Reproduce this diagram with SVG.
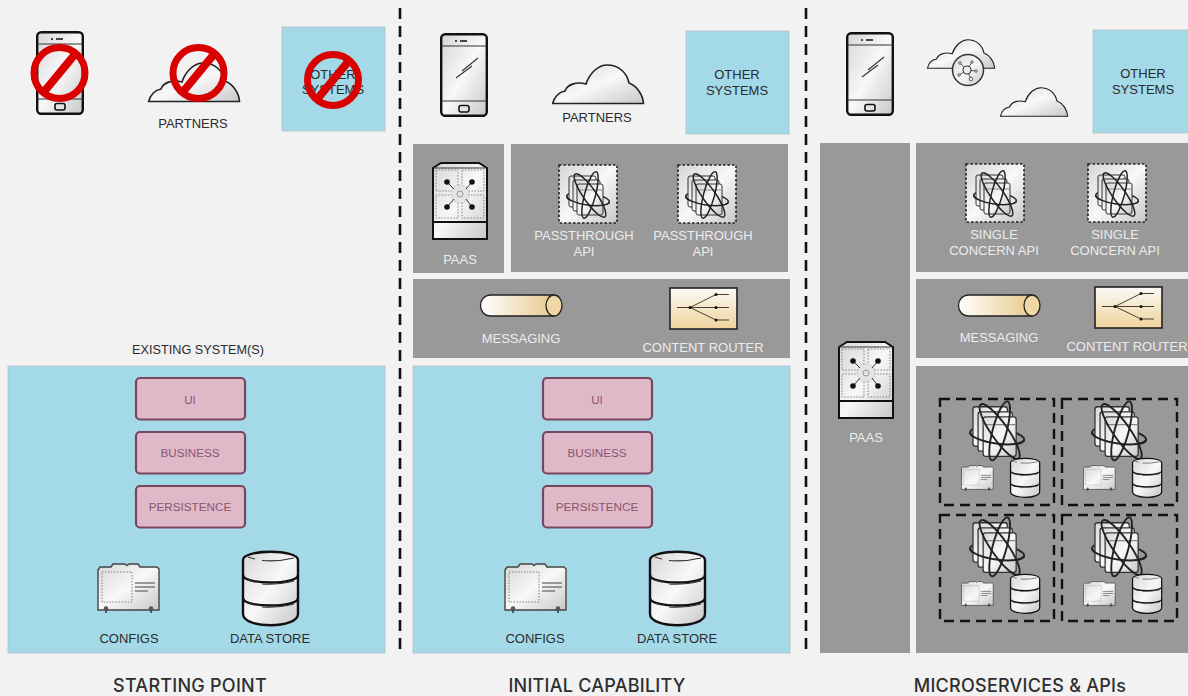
<svg xmlns="http://www.w3.org/2000/svg" width="1188" height="696" viewBox="0 0 1188 696">
<style>
text{font-family:"Liberation Sans",Arial,sans-serif;font-size:13px;text-anchor:middle;fill:#2b2b2b}
.w{fill:#ececec}
.t{font-family:Inter,"Liberation Sans",sans-serif;font-size:18px;font-weight:500;fill:#2e2e2e;letter-spacing:.25px}
.p{fill:#8a5570;font-size:11.700px}
.blue{fill:#a4d9e8;stroke:#b5c4c9;stroke-width:.8}
.gray{fill:#999}
.pink{fill:#e0b9c8;stroke:#7a4560;stroke-width:2.2}
.o{fill:none;stroke:#222;stroke-width:1.5}
.div{stroke:#111;stroke-width:2.6;stroke-dasharray:11 7;fill:none}
.dash{fill:none;stroke:#111;stroke-width:2.4;stroke-dasharray:10 6}
.no{fill:none;stroke:#d90000;stroke-width:7}
.thin{fill:none;stroke:#333;stroke-width:1.2}
.dot{fill:none;stroke:#777;stroke-width:.9;stroke-dasharray:1.5 1.5}
</style>
<defs>
<linearGradient id="g" x1="0" y1="0" x2="1" y2="1"><stop offset="0" stop-color="#d6d6d6"/><stop offset=".5" stop-color="#f8f8f8"/><stop offset="1" stop-color="#c8c8c8"/></linearGradient>
<linearGradient id="tan" x1="0" y1="0" x2="1" y2="0"><stop offset="0" stop-color="#fff"/><stop offset="1" stop-color="#e8c98c"/></linearGradient>
<linearGradient id="tanv" x1="0" y1="0" x2="0" y2="1"><stop offset="0" stop-color="#fbfaf6"/><stop offset="1" stop-color="#efd39c"/></linearGradient>
<g id="phone"><rect x="1.200" y="1.200" width="45.600" height="81.600" rx="4" fill="url(#g)" stroke="#111" stroke-width="2.400"/><path d="M1,13H47M1,68H47" stroke="#333" stroke-width="1.200"/><path d="M15,8h2M20,8h7" stroke="#111" stroke-width="1.500"/><rect x="19" y="72.500" width="10" height="6.500" rx="2" fill="none" stroke="#111" stroke-width="1.600"/></g>
<path id="glare" d="M22,38L38,25M16,45L32,33" stroke="#333" stroke-width="1.100"/>
<path id="cloud" d="M.7,39.500C2,33 7,28 13,27C15,21 24,17 34,20C38,8 47,1 55,1C67,1 75,9 77,19C85,22 91,31 91.500,39.500Z" fill="url(#g)" stroke="#222" stroke-width="1.600"/>
<g id="config"><path d="M1,47V7L3,4H14L16,1H28L30,2.500L32,1H41L43,4H60L62,6V47Z" fill="url(#g)" stroke="#444" stroke-width="1.400"/><rect x="5" y="9" width="30" height="30" class="dot"/><path d="M38,20H58M38,24H58M38,28H51" stroke="#444" stroke-width="1.100"/><path d="M9,46v4M54,46v4" stroke="#333" stroke-width="1.500"/><circle cx="9" cy="45.500" r="2.300" fill="#555"/><circle cx="54" cy="45.500" r="2.300" fill="#555"/></g>
<g id="db"><path d="M1,9C1,-2 56,-2 56,9V63C56,78 1,78 1,63Z" fill="url(#g)" stroke="#111" stroke-width="2.400"/><path d="M1,24C1,34 56,34 56,24M1,47C1,57 56,57 56,47" fill="none" stroke="#111" stroke-width="2.400"/><path d="M6,6Q9,7 13,8M20,9.500Q35,11 52,7M6,29Q9,30 13,31M20,33Q35,34 52,30M6,52Q9,53 13,54M20,56Q35,57 52,53" fill="none" stroke="#333" stroke-width="1.100"/></g>
<g id="stack"><ellipse cx="30" cy="35" rx="21.500" ry="6" class="o" transform="rotate(8 30 35)"/><rect x="11" y="12" width="27" height="31" rx="2" fill="url(#g)" stroke="#333"/><rect x="15" y="16" width="27" height="31" rx="2" fill="url(#g)" stroke="#333"/><rect x="19" y="20" width="26" height="31" rx="2" fill="url(#g)" stroke="#333"/><path d="M19,26H45" stroke="#888"/><path d="M8.500,35A21.500,6 0 0 0 51.500,35" class="o" transform="rotate(8 30 35)"/><ellipse cx="32" cy="31.500" rx="26" ry="6.500" class="o" transform="rotate(55 32 31.500)"/><ellipse cx="32" cy="31" rx="24" ry="5.500" class="o" transform="rotate(105 32 31)"/></g>
<g id="api"><rect x="1" y="1" width="58" height="58" fill="url(#g)" stroke="#222" stroke-width="1.600" stroke-dasharray="2.500 2"/><use href="#stack"/></g>
<g id="paas"><path d="M1,6L9,1H47L55,6V77H1Z" fill="url(#g)" stroke="#111" stroke-width="2"/><path d="M1,6H55" stroke="#333" stroke-width="1.200"/><path d="M1,60H55" stroke="#111" stroke-width="2.200"/><path d="M4,8H26V24L20,29H4ZM30,8H52V29H36L30,24ZM4,33H20L26,38V56H4ZM36,33H52V56H30V38Z" class="dot"/><circle cx="28" cy="32" r="9" fill="#e4e4e4" stroke="#aaa" stroke-dasharray="1.500 1.500" stroke-width=".9"/><circle cx="28" cy="32" r="3" fill="none" stroke="#999"/><path d="M15,20L22,27M40,20L34,27M15,45L22,37M40,45L34,37" stroke="#333" stroke-width="1"/><circle cx="15" cy="20" r="2.800" fill="#111"/><circle cx="40" cy="20" r="2.800" fill="#111"/><circle cx="15" cy="45" r="2.800" fill="#111"/><circle cx="40" cy="45" r="2.800" fill="#111"/></g>
<g id="msg"><path d="M11,1H74V22H11C-3,22 -3,1 11,1Z" fill="url(#tan)" stroke="#222" stroke-width="1.300"/><ellipse cx="74" cy="11.500" rx="8" ry="10.500" fill="#efd7a6" stroke="#222" stroke-width="1.300"/></g>
<g id="router"><rect x="1" y="1" width="67" height="41" fill="url(#tanv)" stroke="#222" stroke-width="1.600"/><path d="M8,20.500H60M21,20.500L47,7.500H60M21,20.500L47,33H60" fill="none" stroke="#4a4030" stroke-width="1"/><circle cx="21" cy="20.500" r="1.500" fill="#111"/><circle cx="47" cy="7.500" r="1.500" fill="#111"/><circle cx="47" cy="20.500" r="1.500" fill="#111"/><circle cx="47" cy="33" r="1.500" fill="#111"/></g>
<g id="ban"><circle r="25.500" class="no"/><path d="M16.500,-20L-16.500,20" stroke="#d90000" stroke-width="8"/></g>
<g id="svc"><use href="#stack" transform="translate(959 391.500) scale(1.270)"/><use href="#config" transform="translate(961 465) scale(.52)"/><use href="#db" transform="translate(1010 458) scale(.53)"/></g>
</defs>
<rect width="1188" height="696" fill="#f2f2f2"/>
<g id="connectors"><path class="div" d="M400,8V650"/><path class="div" d="M806,8V650"/></g>

<g id="starting-phone"><use href="#phone" x="36" y="31"/><use href="#ban" x="59.500" y="73"/></g>
<g id="starting-partners"><use href="#cloud" transform="translate(148 62)"/><use href="#ban" x="198.500" y="73"/><text x="193" y="128">PARTNERS</text></g>
<g id="starting-other"><rect class="blue" x="282" y="27" width="103" height="104"/><text x="333" y="79">OTHER</text><text x="333" y="94">SYSTEMS</text><use href="#ban" x="333" y="80"/></g>
<text x="198" y="354" style="font-size:12.700px">EXISTING SYSTEM(S)</text>
<g id="existing"><rect class="blue" x="8" y="366" width="377" height="287"/>
<g id="s-ui"><rect class="pink" x="136" y="378" width="109" height="41.500" rx="4"/><text class="p" x="190" y="404">UI</text></g>
<g id="s-business"><rect class="pink" x="136" y="432" width="109" height="41.500" rx="4"/><text class="p" x="190" y="457">BUSINESS</text></g>
<g id="s-persistence"><rect class="pink" x="136" y="486" width="109" height="41.500" rx="4"/><text class="p" x="190" y="511">PERSISTENCE</text></g>
<g id="s-configs"><use href="#config" transform="translate(97 563)"/><text x="129" y="643">CONFIGS</text></g>
<g id="s-store"><use href="#db" transform="translate(242 551)"/><text x="270" y="643">DATA STORE</text></g></g>
<text class="t" x="190" y="692">STARTING POINT</text>

<g id="initial-phone"><use href="#phone" x="440" y="33"/><use href="#glare" x="440" y="33"/></g>
<g id="initial-partners"><use href="#cloud" transform="translate(552 64)"/><text x="597" y="122">PARTNERS</text></g>
<g id="initial-other"><rect class="blue" x="686" y="31" width="103" height="103"/><text x="737" y="79">OTHER</text><text x="737" y="95">SYSTEMS</text></g>
<g id="initial-paas"><rect class="gray" x="413" y="144" width="91" height="129"/><use href="#paas" x="432" y="162"/><text class="w" x="460" y="264">PAAS</text></g>
<g id="initial-apis"><rect class="gray" x="511" y="144" width="277" height="128"/><use href="#api" x="558" y="164"/><text class="w" x="584" y="240">PASSTHROUGH</text><text class="w" x="584" y="256">API</text><use href="#api" x="677" y="164"/><text class="w" x="703" y="240">PASSTHROUGH</text><text class="w" x="703" y="256">API</text></g>
<g id="initial-msg"><rect class="gray" x="413" y="279" width="377" height="79"/><use href="#msg" x="480" y="294"/><text class="w" x="521" y="343">MESSAGING</text><use href="#router" x="669" y="287"/><text class="w" x="703" y="352">CONTENT ROUTER</text></g>
<g id="initial-existing"><rect class="blue" x="413" y="366" width="377" height="287"/>
<g id="i-ui"><rect class="pink" x="543" y="378" width="109" height="41.500" rx="4"/><text class="p" x="597" y="404">UI</text></g>
<g id="i-business"><rect class="pink" x="543" y="432" width="109" height="41.500" rx="4"/><text class="p" x="597" y="457">BUSINESS</text></g>
<g id="i-persistence"><rect class="pink" x="543" y="486" width="109" height="41.500" rx="4"/><text class="p" x="597" y="511">PERSISTENCE</text></g>
<g id="i-configs"><use href="#config" transform="translate(504 563)"/><text x="535" y="643">CONFIGS</text></g>
<g id="i-store"><use href="#db" transform="translate(649 551)"/><text x="677" y="643">DATA STORE</text></g></g>
<text class="t" x="597" y="692">INITIAL CAPABILITY</text>

<g id="micro-phone"><use href="#phone" x="846" y="32"/><use href="#glare" x="846" y="32"/></g>
<g id="micro-clouds"><use href="#cloud" transform="translate(927 39) scale(.74)"/><circle cx="968" cy="70" r="15.500" fill="url(#g)" stroke="#333" stroke-width="1.500"/><path d="M967,70L960,63M967,70L972,62M967,70L976,71M967,70L971,79M967,70L959,75" stroke="#444" stroke-width=".9"/><circle cx="967" cy="70" r="4" fill="#eee" stroke="#333" stroke-width="1.100"/><circle cx="960" cy="63" r="1.300" fill="#eee" stroke="#444" stroke-width=".8"/><circle cx="972" cy="62" r="1.300" fill="#eee" stroke="#444" stroke-width=".8"/><circle cx="976" cy="71" r="1.300" fill="#eee" stroke="#444" stroke-width=".8"/><circle cx="971" cy="79" r="1.800" fill="#eee" stroke="#444" stroke-width=".8"/><circle cx="959" cy="75" r="1.300" fill="#eee" stroke="#444" stroke-width=".8"/><use href="#cloud" transform="translate(1000 87) scale(.74)"/></g>
<g id="micro-other"><rect class="blue" x="1093" y="30" width="100" height="103"/><text x="1143" y="78">OTHER</text><text x="1143" y="94">SYSTEMS</text></g>
<g id="micro-paas"><rect class="gray" x="820" y="143" width="90" height="510"/><use href="#paas" x="838" y="341"/><text class="w" x="866" y="442">PAAS</text></g>
<g id="micro-apis"><rect class="gray" x="916" y="143" width="272" height="129"/><use href="#api" x="965" y="163"/><text class="w" x="994" y="239">SINGLE</text><text class="w" x="994" y="255">CONCERN API</text><use href="#api" x="1087" y="163"/><text class="w" x="1115" y="239">SINGLE</text><text class="w" x="1115" y="255">CONCERN API</text></g>
<g id="micro-msg"><rect class="gray" x="916" y="279" width="272" height="79"/><use href="#msg" x="958" y="294"/><text class="w" x="999" y="342">MESSAGING</text><use href="#router" x="1094" y="286"/><text class="w" x="1127" y="351">CONTENT ROUTER</text></g>
<g id="micro-services"><rect class="gray" x="916" y="366" width="272" height="287"/>
<g id="svc1"><rect class="dash" x="940" y="399" width="114" height="106"/><use href="#svc"/></g>
<g id="svc2"><rect class="dash" x="1062" y="399" width="115" height="106"/><use href="#svc" x="122"/></g>
<g id="svc3"><rect class="dash" x="940" y="515" width="114" height="106"/><use href="#svc" y="116"/></g>
<g id="svc4"><rect class="dash" x="1062" y="515" width="115" height="106"/><use href="#svc" x="122" y="116"/></g></g>
<text class="t" x="1020" y="692">MICROSERVICES &amp; APIs</text>
</svg>
